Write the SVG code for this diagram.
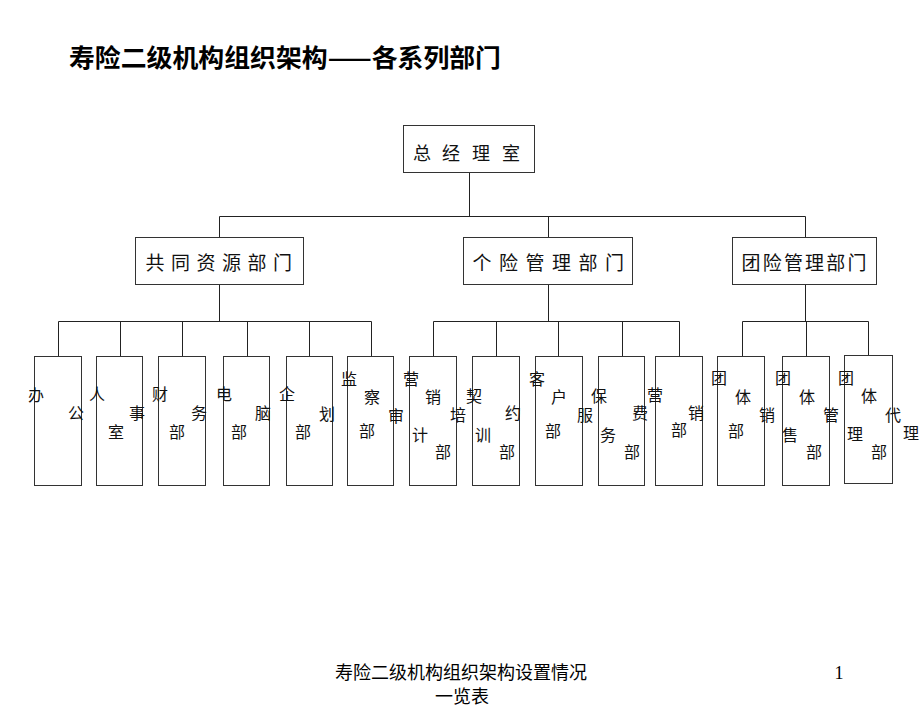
<svg xmlns="http://www.w3.org/2000/svg" width="920" height="718" viewBox="0 0 920 718">
<style>
.bx{fill:#fff;stroke:#333;stroke-width:1}
.ln{fill:none;stroke:#222;stroke-width:1}
.t{font-family:"Noto Sans CJK SC","Liberation Sans",sans-serif;fill:#111;text-anchor:middle}
.h1{font-size:18px}
.h2{font-size:19px}
.s{font-size:16px}
.title{font-family:"Noto Sans CJK SC","Liberation Sans",sans-serif;font-size:25px;font-weight:bold;fill:#000}
.foot{font-family:"Liberation Serif","Noto Sans CJK SC",serif;font-size:18px;fill:#000;text-anchor:middle}
</style>
<rect width="920" height="718" fill="#fff"/>
<text class="title" x="69" y="67" textLength="432" lengthAdjust="spacingAndGlyphs">寿险二级机构组织架构——各系列部门</text>

<g id="connectors" class="ln">
<path d="M469.5 173V216.5M219.5 216.5H805.5M219.5 216.5V237M548.5 216.5V237M805.5 216.5V237"/>
<path d="M219.5 285V321.5M58.5 321.5H371.5M58.5 321.5V356M120.5 321.5V356M182.5 321.5V356M247.5 321.5V356M309.5 321.5V356M371.5 321.5V356"/>
<path d="M548.5 285V321.5M433.5 321.5H679.5M433.5 321.5V356M496.5 321.5V356M558.5 321.5V356M622.5 321.5V356M679.5 321.5V356"/>
<path d="M805.5 285V321.5M742.5 321.5H868.5M742.5 321.5V356M806.5 321.5V356M868.5 321.5V355"/>
</g>

<g id="n-zjls">
<rect class="bx" x="403.5" y="125.5" width="131" height="47"/>
<text class="t h1" x="422 451 481 511" y="160">总经理室</text>
</g>
<g id="n-gtzy">
<rect class="bx" x="135.5" y="237.5" width="168" height="47"/>
<text class="t h2" x="155 180.5 206 231.5 257 282.5" y="270">共同资源部门</text>
</g>
<g id="n-gxgl">
<rect class="bx" x="463.5" y="237.5" width="169" height="47"/>
<text class="t h2" x="482 508.5 535 561.5 588 614.5" y="270">个险管理部门</text>
</g>
<g id="n-txgl">
<rect class="bx" x="732.5" y="237.5" width="144" height="47"/>
<text class="t h2" x="751 772.2 793.4 814.6 835.8 857" y="270">团险管理部门</text>
</g>

<g id="d1"><rect class="bx" x="34.5" y="356.5" width="47" height="129"/>
<text class="t s" x="36" y="401">办</text><text class="t s" x="76" y="419">公</text></g>
<g id="d2"><rect class="bx" x="96.5" y="356.5" width="46" height="129"/>
<text class="t s" x="97" y="400">人</text><text class="t s" x="137" y="419">事</text><text class="t s" x="116" y="438">室</text></g>
<g id="d3"><rect class="bx" x="158.5" y="356.5" width="47" height="129"/>
<text class="t s" x="160" y="400">财</text><text class="t s" x="199" y="419">务</text><text class="t s" x="177" y="438">部</text></g>
<g id="d4"><rect class="bx" x="223.5" y="356.5" width="46" height="129"/>
<text class="t s" x="224" y="400">电</text><text class="t s" x="263" y="419">脑</text><text class="t s" x="239" y="438">部</text></g>
<g id="d5"><rect class="bx" x="286.5" y="356.5" width="46" height="129"/>
<text class="t s" x="287" y="400">企</text><text class="t s" x="327" y="420">划</text><text class="t s" x="303" y="438">部</text></g>
<g id="d6"><rect class="bx" x="347.5" y="356.5" width="46" height="129"/>
<text class="t s" x="349" y="385">监</text><text class="t s" x="372" y="403">察</text><text class="t s" x="396" y="422">审</text><text class="t s" x="367" y="437">部</text></g>
<g id="d7"><rect class="bx" x="409.5" y="356.5" width="47" height="129"/>
<text class="t s" x="411" y="385">营</text><text class="t s" x="433" y="403">销</text><text class="t s" x="420" y="441">计</text><text class="t s" x="443" y="458">部</text></g>
<g id="d8"><rect class="bx" x="472.5" y="356.5" width="47" height="129"/>
<text class="t s" x="458" y="421">培</text><text class="t s" x="474" y="402">契</text><text class="t s" x="513" y="419">约</text><text class="t s" x="483" y="441">训</text><text class="t s" x="507" y="458">部</text></g>
<g id="d9"><rect class="bx" x="535.5" y="356.5" width="47" height="129"/>
<text class="t s" x="537" y="385">客</text><text class="t s" x="559" y="403">户</text><text class="t s" x="585" y="421">服</text><text class="t s" x="553" y="437">部</text></g>
<g id="d10"><rect class="bx" x="598.5" y="356.5" width="46" height="129"/>
<text class="t s" x="599" y="402">保</text><text class="t s" x="608" y="441">务</text><text class="t s" x="640" y="419">费</text><text class="t s" x="632" y="458">部</text></g>
<g id="d11"><rect class="bx" x="655.5" y="356.5" width="47" height="129"/>
<text class="t s" x="655" y="401">营</text><text class="t s" x="696" y="419">销</text><text class="t s" x="679" y="436">部</text></g>
<g id="d12"><rect class="bx" x="717.5" y="356.5" width="47" height="129"/>
<text class="t s" x="719" y="384">团</text><text class="t s" x="743" y="403">体</text><text class="t s" x="767" y="421">销</text><text class="t s" x="736" y="437">部</text></g>
<g id="d13"><rect class="bx" x="782.5" y="356.5" width="47" height="129"/>
<text class="t s" x="783" y="384">团</text><text class="t s" x="807" y="403">体</text><text class="t s" x="790" y="441">售</text><text class="t s" x="814" y="458">部</text><text class="t s" x="831" y="421">管</text></g>
<g id="d14"><rect class="bx" x="844.5" y="355.5" width="48" height="128"/>
<text class="t s" x="846" y="384">团</text><text class="t s" x="869" y="402">体</text><text class="t s" x="855" y="440">理</text><text class="t s" x="879" y="458">部</text><text class="t s" x="893" y="421">代</text><text class="t s" x="911" y="439">理</text></g>

<text class="foot" x="461" y="679">寿险二级机构组织架构设置情况</text>
<text class="foot" x="462" y="703">一览表</text>
<text class="foot" x="839" y="679">1</text>
</svg>
